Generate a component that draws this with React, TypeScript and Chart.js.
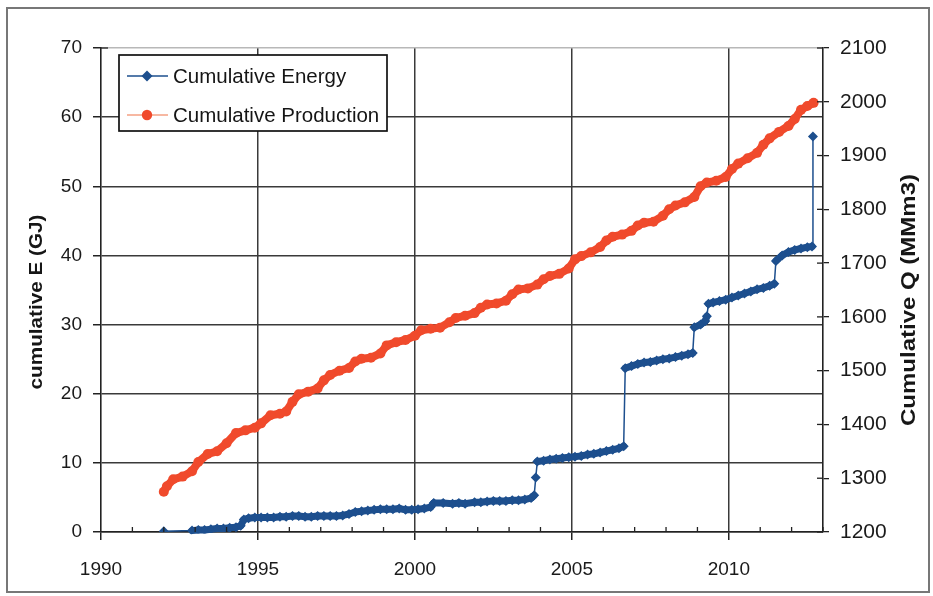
import React, { useEffect, useRef } from "react";
import { Chart, registerables } from "chart.js";

Chart.register(...registerables);

// ---- Data ----
const energyYears = [
  1992.0, 1992.9, 1993.1, 1993.3, 1993.5, 1993.7, 1993.9, 1994.1, 1994.3, 1994.45,
  1994.55, 1994.7, 1994.9, 1995.1, 1995.3, 1995.5, 1995.7, 1995.9, 1996.1, 1996.3,
  1996.5, 1996.7, 1996.9, 1997.1, 1997.3, 1997.5, 1997.7, 1997.9, 1998.1, 1998.3,
  1998.5, 1998.7, 1998.9, 1999.1, 1999.3, 1999.5, 1999.7, 1999.9, 2000.1, 2000.3,
  2000.5, 2000.6, 2000.9, 2001.2, 2001.4, 2001.6, 2001.9, 2002.1, 2002.3, 2002.5,
  2002.7, 2002.9, 2003.1, 2003.3, 2003.5, 2003.7, 2003.8, 2003.85, 2003.9, 2004.1,
  2004.3, 2004.5, 2004.7, 2004.9, 2005.1, 2005.3, 2005.5, 2005.7, 2005.9, 2006.1,
  2006.3, 2006.5, 2006.65, 2006.7, 2006.9, 2007.1, 2007.3, 2007.5, 2007.7, 2007.9,
  2008.1, 2008.3, 2008.5, 2008.7, 2008.85, 2008.9, 2009.1, 2009.25, 2009.3, 2009.35,
  2009.5, 2009.7, 2009.9, 2010.1, 2010.3, 2010.5, 2010.7, 2010.9, 2011.1, 2011.3,
  2011.45, 2011.5, 2011.7, 2011.9, 2012.1, 2012.3, 2012.5, 2012.65, 2012.68,
];
const energyGJ = [
  0.1, 0.2, 0.3, 0.3, 0.4, 0.5, 0.5, 0.6, 0.7, 0.9,
  1.8, 2.0, 2.1, 2.1, 2.1, 2.1, 2.2, 2.2, 2.3, 2.3,
  2.2, 2.2, 2.3, 2.3, 2.3, 2.3, 2.4, 2.6, 2.9, 3.0,
  3.1, 3.2, 3.3, 3.3, 3.3, 3.4, 3.2, 3.2, 3.3, 3.4,
  3.6, 4.2, 4.2, 4.1, 4.2, 4.1, 4.3, 4.3, 4.4, 4.5,
  4.5, 4.5, 4.6, 4.6, 4.7, 4.9, 5.3, 7.9, 10.2, 10.3,
  10.5, 10.6, 10.7, 10.8, 10.9, 11.0, 11.2, 11.3, 11.5, 11.7,
  11.9, 12.1, 12.4, 23.7, 24.0, 24.3, 24.5, 24.6, 24.8, 25.0,
  25.1, 25.3, 25.5, 25.7, 25.9, 29.6, 30.0, 30.5, 31.2, 33.0,
  33.2, 33.4, 33.6, 33.9, 34.2, 34.5, 34.8, 35.1, 35.3, 35.6,
  35.9, 39.2, 40.0, 40.5, 40.8, 41.0, 41.2, 41.3, 57.2,
];

const productionYears = [
  1992.0, 1992.1, 1992.3, 1992.6, 1992.9, 1993.1, 1993.4, 1993.7, 1994.0, 1994.3,
  1994.6, 1994.9, 1995.1, 1995.4, 1995.7, 1995.9, 1996.1, 1996.3, 1996.6, 1996.9,
  1997.1, 1997.3, 1997.6, 1997.9, 1998.1, 1998.3, 1998.6, 1998.9, 1999.1, 1999.4,
  1999.7, 2000.0, 2000.2, 2000.5, 2000.8, 2001.1, 2001.3, 2001.6, 2001.9, 2002.1,
  2002.3, 2002.6, 2002.9, 2003.1, 2003.3, 2003.6, 2003.9, 2004.1, 2004.3, 2004.6,
  2004.9, 2005.1, 2005.3, 2005.6, 2005.9, 2006.1, 2006.3, 2006.6, 2006.9, 2007.1,
  2007.3, 2007.6, 2007.9, 2008.1, 2008.3, 2008.6, 2008.9, 2009.1, 2009.3, 2009.6,
  2009.9, 2010.1, 2010.3, 2010.6, 2010.9, 2011.1, 2011.3, 2011.6, 2011.9, 2012.1,
  2012.3, 2012.5, 2012.7,
];
const productionMMm3 = [
  1275, 1285, 1298, 1303, 1313, 1330, 1345, 1350, 1365, 1384,
  1389, 1394, 1402, 1417, 1420, 1424, 1442, 1456, 1461, 1467,
  1482, 1492, 1500, 1505, 1517, 1522, 1524, 1532, 1547, 1553,
  1557, 1565, 1575, 1578, 1580, 1590, 1598, 1602, 1607, 1617,
  1623, 1625, 1630, 1642, 1651, 1653, 1660, 1670, 1676, 1680,
  1690, 1707, 1713, 1720, 1730, 1742, 1749, 1753, 1760, 1770,
  1775, 1777, 1788, 1800, 1807, 1813, 1823, 1843, 1850, 1853,
  1860, 1875, 1885, 1895, 1905, 1920, 1932, 1944, 1955, 1968,
  1985, 1992, 1998,
];

const seriesLabels = ["Cumulative Energy", "Cumulative Production"];
const leftAxisTitle = "cumulative E (GJ)";
const rightAxisTitle = "Cumulative Q (MMm3)";

// ---- Styles ----
const BLUE = "#1d4f8e";
const RED = "#f04a2c";
const RED_LIGHT = "#f4a083";
const GRID = "#3a3a3a";
const AXIS = "#222222";
const SANS = "'Liberation Sans', Arial, sans-serif";

export default function App() {
  const ref = useRef<HTMLCanvasElement>(null);

  useEffect(() => {
    const canvas = ref.current;
    if (!canvas) return;

    // thick band under the dense runs of energy markers (jumps stay thin)
    const band = {
      id: "band",
      afterDatasetsDraw(chart: any) {
        const meta = chart.getDatasetMeta(0);
        const ctx = chart.ctx as CanvasRenderingContext2D;
        const pts = meta.data as any[];
        ctx.save();
        ctx.strokeStyle = BLUE;
        ctx.lineWidth = 7;
        ctx.lineCap = "round";
        ctx.lineJoin = "round";
        for (let i = 1; i < pts.length; i++) {
          const dx = Math.abs(energyYears[i] - energyYears[i - 1]);
          const dy = Math.abs(energyGJ[i] - energyGJ[i - 1]);
          if (dx > 0.4 || dy > 1.2) continue;
          const a = pts[i - 1].getProps(["x", "y"], true);
          const b = pts[i].getProps(["x", "y"], true);
          ctx.beginPath();
          ctx.moveTo(a.x, a.y);
          ctx.lineTo(b.x, b.y);
          ctx.stroke();
        }
        ctx.restore();
      },
    };

    const decor = {
      id: "decor",
      afterDraw(chart: any) {
        const ctx = chart.ctx as CanvasRenderingContext2D;
        const { right, bottom, top, left } = chart.chartArea;
        const xs = chart.scales.x;
        const y1 = chart.scales.y1;
        const line = (x1: number, yA: number, x2: number, yB: number) => {
          ctx.beginPath();
          ctx.moveTo(x1, yA);
          ctx.lineTo(x2, yB);
          ctx.stroke();
        };
        ctx.save();
        ctx.strokeStyle = AXIS;
        ctx.lineWidth = 1.3;
        // minor yearly ticks on the x axis (inside)
        for (let yr = Math.ceil(xs.min); yr <= xs.max; yr++) {
          if (yr % 5 === 0) continue;
          const px = xs.getPixelForValue(yr);
          line(px, bottom, px, bottom - 5);
        }
        // inner ticks on the right axis
        for (const t of y1.ticks) {
          const py = y1.getPixelForValue(t.value);
          line(right - 6, py, right, py);
        }
        // inner tick on the left axis at the top
        line(left, top, left + 7, top);

        // axis titles
        const drawRot = (txt: string, cx: number, cy: number, font: string, sx: number) => {
          ctx.save();
          ctx.translate(cx, cy);
          ctx.rotate(-Math.PI / 2);
          ctx.scale(sx, 1);
          ctx.font = font;
          ctx.fillStyle = "#161616";
          ctx.textAlign = "center";
          ctx.textBaseline = "middle";
          ctx.fillText(txt, 0, 0);
          ctx.restore();
        };
        drawRot(leftAxisTitle, 37, 302, `bold 18px ${SANS}`, 1.15);
        drawRot(rightAxisTitle, 909, 300, `bold 20px ${SANS}`, 1.2);

        // legend
        const bx = 119, by = 55, bw = 268, bh = 76;
        ctx.fillStyle = "#ffffff";
        ctx.fillRect(bx, by, bw, bh);
        ctx.strokeStyle = "#111";
        ctx.lineWidth = 1.7;
        ctx.strokeRect(bx, by, bw, bh);
        const rows = [
          { y: 76, color: BLUE, lineColor: BLUE, shape: "diamond" },
          { y: 115, color: RED, lineColor: RED_LIGHT, shape: "circle" },
        ];
        rows.forEach((r, i) => {
          ctx.strokeStyle = r.lineColor;
          ctx.lineWidth = 1.6;
          line(127, r.y, 168, r.y);
          ctx.fillStyle = r.color;
          ctx.beginPath();
          if (r.shape === "diamond") {
            ctx.moveTo(147, r.y - 5.5);
            ctx.lineTo(152.5, r.y);
            ctx.lineTo(147, r.y + 5.5);
            ctx.lineTo(141.5, r.y);
            ctx.closePath();
          } else {
            ctx.arc(147, r.y, 5.2, 0, Math.PI * 2);
          }
          ctx.fill();
          ctx.fillStyle = "#151515";
          ctx.font = `20.5px ${SANS}`;
          ctx.textAlign = "left";
          ctx.textBaseline = "middle";
          ctx.fillText(seriesLabels[i], 173, r.y + 1);
        });
        ctx.restore();
      },
    };

    const chart = new Chart(canvas, {
      type: "line",
      data: {
        datasets: [
          {
            label: seriesLabels[0],
            data: energyYears.map((x, i) => ({ x, y: energyGJ[i] })),
            yAxisID: "y",
            borderColor: BLUE,
            backgroundColor: BLUE,
            borderWidth: 1.5,
            pointStyle: "rectRot",
            pointRadius: 5,
            pointBorderWidth: 0,
            tension: 0,
          },
          {
            label: seriesLabels[1],
            data: productionYears.map((x, i) => ({ x, y: productionMMm3[i] })),
            yAxisID: "y1",
            borderColor: RED,
            backgroundColor: RED,
            borderWidth: 8,
            borderJoinStyle: "round",
            borderCapStyle: "round",
            pointStyle: "circle",
            pointRadius: 5,
            pointBorderWidth: 0,
            tension: 0,
          },
        ],
      },
      plugins: [band, decor],
      options: {
        responsive: false,
        animation: false,
        devicePixelRatio: 1,
        layout: { padding: { top: 48, left: 0, right: 0, bottom: 0 } },
        plugins: {
          legend: { display: false },
          tooltip: { enabled: false },
          title: { display: false },
        },
        scales: {
          x: {
            type: "linear",
            min: 1990,
            max: 2013,
            ticks: {
              stepSize: 5,
              includeBounds: false,
              maxRotation: 0,
              padding: 18,
              color: "#1a1a1a",
              font: { family: SANS, size: 19 },
              callback: (v: any) => String(v),
            },
            grid: {
              color: (c: any) => (c.tick && c.tick.value === 1990 ? "rgba(0,0,0,0)" : GRID),
              lineWidth: 1.5,
              tickLength: 8,
              tickColor: AXIS,
            },
            border: { display: true, color: AXIS, width: 1.6 },
            afterFit: (s: any) => {
              s.height = 64;
            },
          },
          y: {
            type: "linear",
            position: "left",
            min: 0,
            max: 70,
            ticks: {
              stepSize: 10,
              padding: 11,
              color: "#1a1a1a",
              font: { family: SANS, size: 19 },
              callback: (v: any) => String(v),
            },
            grid: {
              color: (c: any) => (c.tick && c.tick.value === 70 ? "#b8b8b8" : GRID),
              lineWidth: 1.5,
              tickLength: 8,
              tickColor: AXIS,
            },
            border: { display: true, color: AXIS, width: 1.6 },
            afterFit: (s: any) => {
              s.width = 101;
            },
          },
          y1: {
            type: "linear",
            position: "right",
            min: 1200,
            max: 2100,
            ticks: {
              stepSize: 100,
              padding: 11,
              color: "#1a1a1a",
              font: { family: SANS, size: 21 },
              callback: (v: any) => String(v),
            },
            grid: {
              drawOnChartArea: false,
              tickLength: 6,
              color: AXIS,
              lineWidth: 1.3,
            },
            border: { display: true, color: AXIS, width: 1.6 },
            afterFit: (s: any) => {
              s.width = 110;
            },
          },
        },
      },
    });

    return () => chart.destroy();
  }, []);

  return (
    <div style={{ position: "absolute", left: 0, top: 0, width: 933, height: 596, background: "#fff" }}>
      <div
        style={{
          position: "absolute",
          left: 6,
          top: 7,
          width: 924,
          height: 586,
          border: "2px solid #777",
          boxSizing: "border-box",
        }}
      />
      <canvas
        ref={ref}
        width={933}
        height={596}
        style={{ position: "absolute", left: 0, top: 0, width: 933, height: 596 }}
      />
    </div>
  );
}
